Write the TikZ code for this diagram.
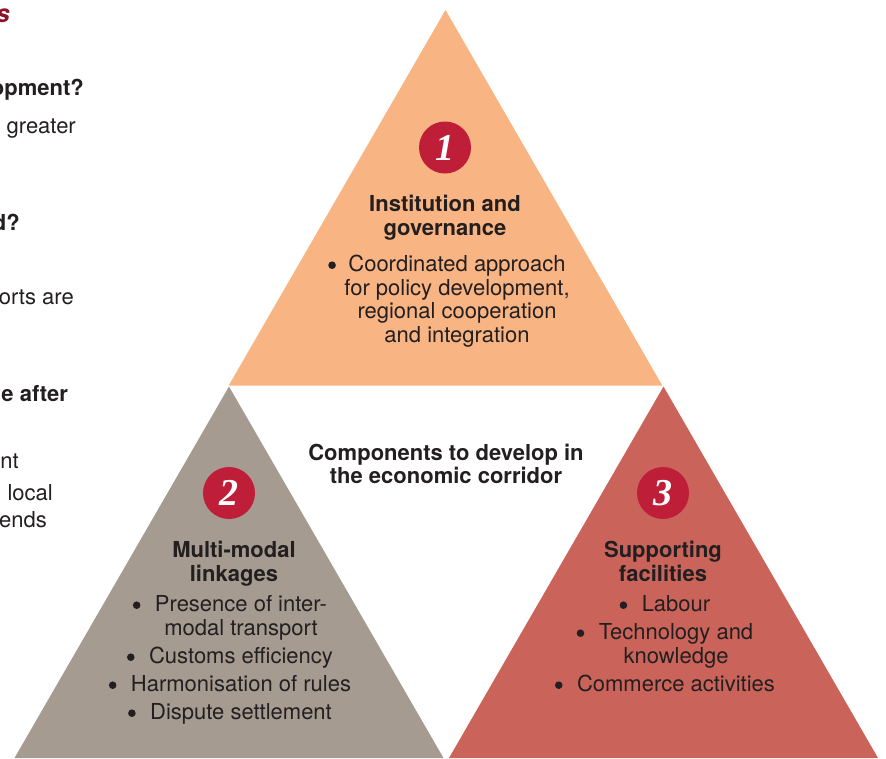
\documentclass[tikz,border=0pt]{standalone}
\usepackage{fontspec}
\setmainfont{TeX Gyre Heros}
\newfontfamily\numfont{Liberation Serif}
\definecolor{triorange}{RGB}{249,180,131}
\definecolor{trigray}{RGB}{166,155,145}
\definecolor{trired}{RGB}{202,100,90}
\definecolor{crimson}{RGB}{190,30,55}
\definecolor{textdark}{RGB}{35,31,32}
\definecolor{headred}{RGB}{140,20,40}
\newcommand\dotglyph{\tikz[baseline=-5.8pt]\fill[textdark] (0,0) circle (3.8pt);}
\newcommand\itembul[1][14.5pt]{\llap{\dotglyph\hspace{#1}}}
\begin{document}
\begin{tikzpicture}[x=1pt,y=-1pt,
  every node/.style={inner sep=0pt},
  txt/.style={anchor=base, text=textdark, font=\fontsize{22}{24}\selectfont},
  hd/.style={anchor=base, text=textdark, font=\fontsize{22}{24}\selectfont\bfseries},
  frag/.style={anchor=base east, text=textdark, font=\fontsize{22}{24}\selectfont},
  fragb/.style={frag, font=\fontsize{22}{24}\selectfont\bfseries},
  num/.style={circle, fill=crimson, minimum size=52pt, text=white,
    font=\numfont\bfseries\itshape\fontsize{38}{38}\selectfont}]
\useasboundingbox (0,0) rectangle (886,758);
% triangles
\fill[triorange] (445.5,10) -- (662.3,385.5) -- (228.7,385.5) -- cycle;
\fill[trigray] (229,386.5) -- (443.5,758) -- (14.5,758) -- cycle;
\fill[trired] (663.5,386.5) -- (878,758) -- (449,758) -- cycle;
% left cropped column fragments
\node[frag, anchor=base east, text=headred, font=\fontsize{25}{28}\selectfont\bfseries\itshape] (f1) at (10,22) {s};
\node[fragb] (f2) at (84,95) {opment?};
\node[frag] (f3) at (76,133) {greater};
\node[fragb] (f4) at (20,230) {d?};
\node[frag] (f5) at (74,304) {orts are};
\node[fragb] (f6) at (68,401) {e after};
\node[frag] (f7) at (19,468) {nt};
\node[frag] (f8) at (53,500) {local};
\node[frag] (f9) at (47,527) {ends};
% top triangle
\node[num] (n1) at (445,147.5) {1};
\node[hd] (t1) at (445,211) {Institution and};
\node[hd] (t2) at (445,235) {governance};
\node[txt] (t3) at (457,271) {\itembul[12.5pt]Coordinated approach};
\node[txt] (t4) at (457,295) {for policy development,};
\node[txt] (t5) at (457,318.5) {regional cooperation};
\node[txt] (t6) at (457,342) {and integration};
% centre
\node[hd] (c1) at (446,460) {Components to develop in};
\node[hd] (c2) at (446,483.5) {the economic corridor};
% left triangle
\node[num] (n2) at (229,493) {2};
\node[hd] (l1) at (234,557) {Multi-modal};
\node[hd] (l2) at (234,581) {linkages};
\node[txt] (l3) at (241,611) {\itembul Presence of inter-};
\node[txt] (l4) at (241,635) {modal transport};
\node[txt] (l5) at (241,663) {\itembul Customs efficiency};
\node[txt] (l6) at (241,691) {\itembul Harmonisation of rules};
\node[txt] (l7) at (241,719) {\itembul Dispute settlement};
% right triangle
\node[num] (n3) at (663,493) {3};
\node[hd] (r1) at (663,557) {Supporting};
\node[hd] (r2) at (663,581) {facilities};
\node[txt] (r3) at (676,611) {\itembul Labour};
\node[txt] (r4) at (676,639) {\itembul Technology and};
\node[txt] (r5) at (676,663) {knowledge};
\node[txt] (r6) at (676,691) {\itembul Commerce activities};
\end{tikzpicture}
\end{document}
